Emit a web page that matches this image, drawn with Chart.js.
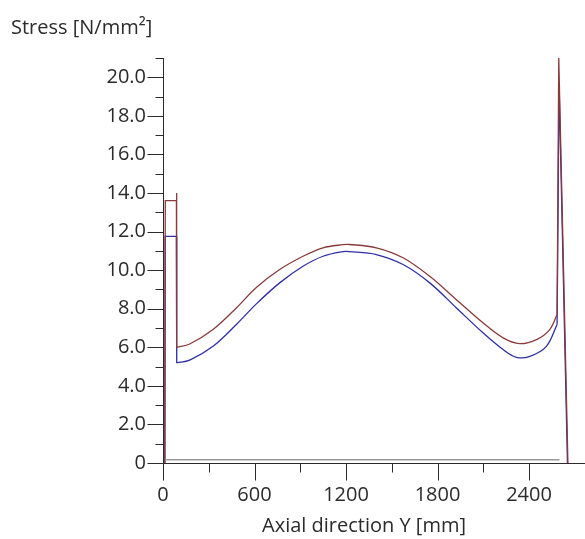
<!DOCTYPE html>
<html>
<head>
<meta charset="utf-8">
<script src="https://cdn.jsdelivr.net/npm/chart.js@4/dist/chart.umd.min.js"></script>
<style>
  html, body { margin: 0; padding: 0; background: #fff; }
  #wrap { width: 585px; height: 539px; position: relative; }
</style>
</head>
<body>
<div id="wrap"><canvas id="c"></canvas></div>
<script>
// Stress along the axial direction: two load cases (brown / blue) + baseline.
// straight edges (left step, right spike) and smooth middle parts kept apart
const brownLeftX = [12, 15, 88, 89, 90];
const brownLeftY = [0, 13.6, 13.6, 14.0, 6.0];
const brownCurveX = [90, 175, 328, 481, 612, 765, 918, 1049, 1180, 1224, 1399, 1574, 1749, 1924, 2098, 2230, 2339, 2449, 2536, 2584];
const brownCurveY = [6.0, 6.17, 6.92, 8.04, 9.1, 10.03, 10.72, 11.16, 11.32, 11.33, 11.16, 10.64, 9.68, 8.47, 7.27, 6.49, 6.19, 6.4, 6.92, 7.7];
const brownRightX = [2584, 2595, 2655];
const brownRightY = [7.7, 21.0, 0];

const blueLeftX = [12, 14, 88, 90];
const blueLeftY = [0, 11.75, 11.75, 5.19];
const blueCurveX = [90, 175, 328, 481, 612, 765, 918, 1049, 1180, 1224, 1399, 1574, 1749, 1924, 2098, 2230, 2317, 2405, 2514, 2584];
const blueCurveY = [5.19, 5.33, 6.05, 7.18, 8.25, 9.34, 10.2, 10.72, 10.96, 10.96, 10.81, 10.29, 9.34, 8.04, 6.75, 5.88, 5.48, 5.53, 6.05, 7.18];
const blueRightX = [2584, 2597, 2652];
const blueRightY = [7.18, 19.6, 0];

const baseX = [15, 2600];
const baseY = [0.17, 0.17];

const yMajor = [0, 2, 4, 6, 8, 10, 12, 14, 16, 18, 20];
const yMinor = [1, 3, 5, 7, 9, 11, 13, 15, 17, 19, 21];
const xMajor = [0, 600, 1200, 1800, 2400];
const xMinor = [300, 900, 1500, 2100];

const pts = (xs, ys) => xs.map((x, i) => ({ x, y: ys[i] }));
const FONT = "'Open Sans', sans-serif";
const FSIZE = 20;
const INK = '#2b2b2b';
const BROWN = '#8a3a3a';
const BLUE = '#2e2ea8';

// axis lines, tick marks (major/minor lengths differ) and the two titles
const axesPlugin = {
  id: 'axes',
  afterDraw(chart) {
    const { ctx } = chart;
    const x = chart.scales.x, y = chart.scales.y;
    const x0 = Math.round(x.getPixelForValue(0)) + 0.5, y0 = Math.round(y.getPixelForValue(0)) + 0.5;
    ctx.save();
    ctx.strokeStyle = INK; ctx.lineWidth = 1;
    ctx.beginPath();
    ctx.moveTo(x0, y.getPixelForValue(21)); ctx.lineTo(x0, y0);
    ctx.moveTo(x0, y0); ctx.lineTo(chart.width, y0);
    yMajor.forEach((v) => { const p = Math.round(y.getPixelForValue(v)) + 0.5; ctx.moveTo(x0 - 16, p); ctx.lineTo(x0, p); });
    yMinor.forEach((v) => { const p = Math.round(y.getPixelForValue(v)) + 0.5; ctx.moveTo(x0 - 8, p); ctx.lineTo(x0, p); });
    xMajor.forEach((v) => { const p = Math.round(x.getPixelForValue(v)) + 0.5; ctx.moveTo(p, y0); ctx.lineTo(p, y0 + 17); });
    xMinor.forEach((v) => { const p = Math.round(x.getPixelForValue(v)) + 0.5; ctx.moveTo(p, y0); ctx.lineTo(p, y0 + 9); });
    ctx.stroke();
    ctx.fillStyle = INK;
    ctx.font = `${FSIZE}px ${FONT}`;
    ctx.textBaseline = 'middle';
    ctx.textAlign = 'left';
    ctx.fillText('Stress [N/mm²]', 11, 28);
    ctx.textAlign = 'center';
    ctx.fillText('Axial direction Y [mm]', 364, 526);
    ctx.restore();
  },
};

const line = (xs, ys, color, tension) => ({
  data: pts(xs, ys), borderColor: color, borderWidth: 1.3, showLine: true,
  pointRadius: 0, tension, clip: false,
});

new Chart(document.getElementById('c'), {
  type: 'scatter',
  data: {
    datasets: [
      { ...line(baseX, baseY, '#9a9a9a', 0), borderWidth: 1.6 },
      line(brownLeftX, brownLeftY, BROWN, 0),
      line(brownCurveX, brownCurveY, BROWN, 0.35),
      line(brownRightX, brownRightY, BROWN, 0),
      line(blueLeftX, blueLeftY, BLUE, 0),
      line(blueCurveX, blueCurveY, BLUE, 0.35),
      line(blueRightX, blueRightY, BLUE, 0),
    ],
  },
  options: {
    responsive: true,
    maintainAspectRatio: false,
    animation: false,
    layout: { padding: { top: 58, right: 0, left: 0, bottom: 0 } },
    plugins: { legend: { display: false }, tooltip: { enabled: false } },
    scales: {
      x: {
        type: 'linear', min: 0, max: 2767,
        afterFit: (s) => { s.height = 76; s.paddingRight = 0; s.paddingLeft = 0; },
        afterBuildTicks: (s) => { s.ticks = xMajor.map((v) => ({ value: v })); },
        grid: { display: false, drawTicks: false },
        border: { display: false },
        ticks: {
          padding: 20, color: INK, font: { family: FONT, size: FSIZE },
          maxRotation: 0, autoSkip: false,
          callback: (v) => String(v),
        },
      },
      y: {
        min: 0, max: 21,
        afterFit: (s) => { s.width = 163; s.paddingTop = 0; s.paddingBottom = 0; },
        afterBuildTicks: (s) => { s.ticks = yMajor.map((v) => ({ value: v })); },
        grid: { display: false, drawTicks: false },
        border: { display: false },
        ticks: {
          padding: 17, color: INK, font: { family: FONT, size: FSIZE }, autoSkip: false,
          callback: (v) => (v === 0 ? '0' : v.toFixed(1)),
        },
      },
    },
  },
  plugins: [axesPlugin],
});
</script>
</body>
</html>
